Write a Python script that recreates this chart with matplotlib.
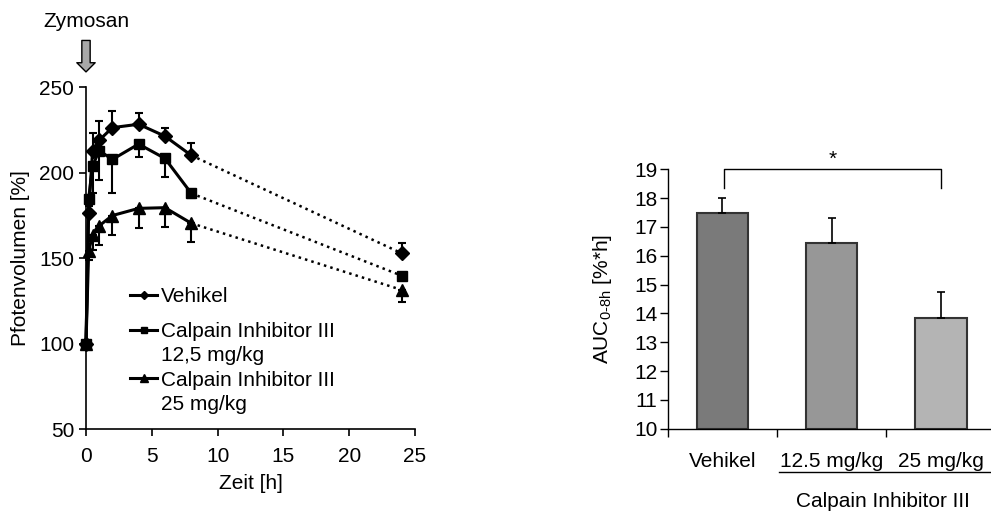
import matplotlib
matplotlib.use("Agg")
import matplotlib.pyplot as plt
import matplotlib.transforms as mtransforms
from matplotlib.patches import ArrowStyle
from matplotlib.lines import Line2D

plt.rcParams['font.family'] = ['Liberation Sans', 'DejaVu Sans']
plt.rcParams['mathtext.fontset'] = 'custom'
plt.rcParams['mathtext.rm'] = 'Liberation Sans'
plt.rcParams['mathtext.it'] = 'Liberation Sans'
plt.rcParams['font.size'] = 15

# ---------------- data: left panel ----------------
times = [0, 0.2, 0.5, 1, 2, 4, 6, 8, 24]
vehikel = [100, 176.7, 213, 219, 226.4, 228.4, 221.4, 210.2, 152.9]
vehikel_err = [0, 5, 10.5, 11, 10, 6.5, 5, 7, 6]
calp125 = [100, 184.7, 204, 213, 207.8, 216.8, 208.4, 188, 139.8]
calp125_err = [0, 4, 16, 17, 19.5, 7.5, 11, 3, 2]
calp25 = [100, 154, 163.7, 169, 175, 179.2, 179.6, 170.5, 131.5]
calp25_err = [0, 5, 9, 11, 11.5, 11.5, 11.3, 11, 7]
series_names = ['Vehikel', 'Calpain Inhibitor III', 'Calpain Inhibitor III']
series_doses = ['', '12,5 mg/kg', '25 mg/kg']
left_xticks = [0, 5, 10, 15, 20, 25]
left_yticks = [50, 100, 150, 200, 250]

# ---------------- data: right panel ----------------
bar_labels = ['Vehikel', '12.5 mg/kg', '25 mg/kg']
auc = [17.5, 16.44, 13.85]
auc_err = [0.5, 0.88, 0.88]
bar_colors = ['#7a7a7a', '#979797', '#b4b4b4']
right_yticks = list(range(10, 20))

fig = plt.figure(figsize=(9.91, 5.15), dpi=100)

# ---------------- left panel ----------------
ax = fig.add_axes([86/991, 1-429.3/515, 329/991, 342/515])
markers = ['D', 's', '^']
msizes = [7, 7, 8]
errs = [vehikel_err, calp125_err, calp25_err]
ys = [vehikel, calp125, calp25]
sides = ['up', 'down', 'down']
handles = []
for y, e, m, ms, side in zip(ys, errs, markers, msizes, sides):
    if side == 'up':
        yerr = [[0]*len(e), e]
    else:
        yerr = [e, [0]*len(e)]
    ax.errorbar(times, y, yerr=yerr, fmt='none', ecolor='black', elinewidth=1.5,
                capsize=3, capthick=1.5, clip_on=False, zorder=2)
    h, = ax.plot(times[:-1], y[:-1], '-', color='black', lw=2.2, marker=m, ms=ms,
                 mfc='black', mec='black', clip_on=False, zorder=3)
    ax.plot(times[-2:], y[-2:], ':', color='black', lw=1.8, zorder=2, clip_on=False)
    ax.plot(times[-1:], y[-1:], linestyle='none', marker=m, ms=ms, color='black',
            clip_on=False, zorder=3)
    handles.append(h)

ax.set_xlim(0, 25)
ax.set_ylim(50, 250)
ax.set_xticks(left_xticks)
ax.set_yticks(left_yticks)
for s in ['top', 'right']:
    ax.spines[s].set_visible(False)
for s in ['left', 'bottom']:
    ax.spines[s].set_linewidth(1.2)
ax.tick_params(axis='both', direction='out', length=5, width=1.2)
ax.tick_params(axis='x', pad=7.5)
ax.tick_params(axis='y', pad=3.5)
ax.set_xlabel('Zeit [h]', labelpad=6)
ax.set_ylabel('Pfotenvolumen [%]')
ax.yaxis.set_label_coords(-0.17, 0.5)

legkw = dict(loc='upper left', frameon=False, borderpad=0, borderaxespad=0,
             handlelength=1.3, handletextpad=0.2, markerscale=0.65, fontsize=15)
blank = Line2D([], [], linestyle='none')
leg1 = ax.legend(handles=[handles[0]], labels=[series_names[0]],
                 bbox_to_anchor=(0.134, 0.416), **legkw)
ax.add_artist(leg1)
leg2 = ax.legend(handles=[handles[1], blank, handles[2], blank],
                 labels=[series_names[1], series_doses[1], series_names[2], series_doses[2]],
                 bbox_to_anchor=(0.134, 0.313), labelspacing=0.25, **legkw)

trans = mtransforms.blended_transform_factory(ax.transData, ax.transAxes)
ax.annotate('', xy=(0, 1.045), xytext=(0, 1.137), xycoords=trans, textcoords=trans,
            arrowprops=dict(arrowstyle=ArrowStyle.Simple(head_length=0.33, head_width=0.66, tail_width=0.3),
                            mutation_scale=20, fc='#a8a8a8', ec='black', lw=1.0,
                            shrinkA=0, shrinkB=0), annotation_clip=False)
ax.text(0, 1.192, 'Zymosan', transform=trans, ha='center', va='center', fontsize=15)

# ---------------- right panel ----------------
bx = fig.add_axes([667.7/991, 1-428.7/515, 328/991, 259.4/515])
xpos = list(range(len(auc)))
bx.bar(xpos, [a - 10 for a in auc], bottom=10, width=0.47, color=bar_colors,
       edgecolor='#333333', linewidth=1.5, zorder=2)
bx.errorbar(xpos, auc, yerr=[[0]*3, auc_err], fmt='none', ecolor='black',
            elinewidth=1.2, capsize=2.8, capthick=1.2, zorder=3)
bx.set_xlim(-0.5, 2.5)
bx.set_ylim(10, 19)
bx.set_yticks(right_yticks)
bx.set_xticks([-0.5, 0.5, 1.5, 2.5])
bx.set_xticklabels([])
bx.set_xticks(xpos, minor=True)
bx.set_xticklabels(bar_labels, minor=True)
bx.tick_params(axis='x', which='minor', length=0, pad=17)
bx.tick_params(axis='x', which='major', length=6, width=1.0, direction='out')
bx.tick_params(axis='y', length=6, width=1.0, direction='out', pad=1.5)
for s in ['top', 'right']:
    bx.spines[s].set_visible(False)
for s in ['left', 'bottom']:
    bx.spines[s].set_linewidth(1.0)
bx.set_ylabel(r'AUC$_\mathregular{0\text{-}8h}$ [%*h]')
bx.yaxis.set_label_coords(-0.165, 0.5)

# significance bracket
bx.plot([0.012, 0.012, 2.0, 2.0], [18.35, 19.0, 19.0, 18.35], color='black', lw=1.0,
        clip_on=False)
bx.text(1.01, 19.33, '*', ha='center', va='center', fontsize=15)

btrans = mtransforms.blended_transform_factory(bx.transData, bx.transAxes)
bx.plot([0.521, 2.46], [-0.168, -0.168], color='black', lw=1.0, transform=btrans,
        clip_on=False)
bx.text(1.465, -0.279, 'Calpain Inhibitor III', transform=btrans, ha='center',
        va='center', fontsize=15)

fig.savefig('out.png', dpi=100)
